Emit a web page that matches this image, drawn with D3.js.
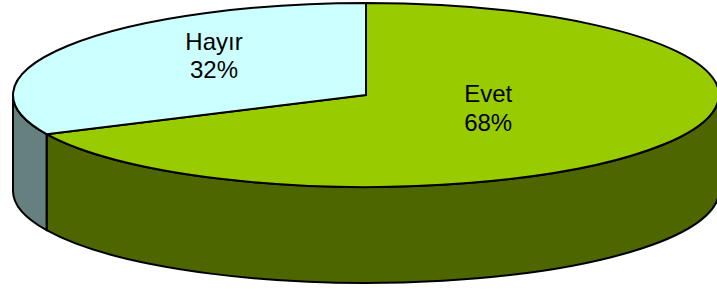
<!DOCTYPE html>
<html>
<head>
<meta charset="utf-8">
<script src="https://cdn.jsdelivr.net/npm/d3@7"></script>
<style>
  body { margin: 0; background: #fff; }
  svg { display: block; }
</style>
</head>
<body>
<svg id="chart" width="717" height="289"></svg>
<script>
// slice data
var labels = ["Evet", "Hayır"];
var values = [68, 32];
var percentLabels = ["68%", "32%"];

// colours: top face / side face
var topColors = ["#99cc00", "#ccffff"];
var sideColors = ["#4d6600", "#668080"];

// label placement, fraction of radius along x / y at mid angle
var labelFrac = [[0.41, 0.26], [0.51, 0.80]];

var W = 717, H = 289;
var cx = 366, cy = 95, rx = 353, ry = 92, depth = 96;

var svg = d3.select("#chart");

var pie = d3.pie().sort(null).value(d => d)
    .startAngle(0).endAngle(2 * Math.PI);
var arcs = pie(values);

// d3 angle (0 = top, clockwise) -> point on the ellipse
function pt(a, dy) {
    return [cx + rx * Math.sin(a), cy - ry * Math.cos(a) + (dy || 0)];
}

function topPath(a0, a1) {
    var p0 = pt(a0), p1 = pt(a1);
    var large = (a1 - a0) > Math.PI ? 1 : 0;
    return "M" + cx + "," + cy + "L" + p0 + "A" + rx + "," + ry + " 0 " + large + " 1 " + p1 + "Z";
}

function sidePath(a0, a1) {
    var p0 = pt(a0), p1 = pt(a1), q0 = pt(a0, depth), q1 = pt(a1, depth);
    var large = (a1 - a0) > Math.PI ? 1 : 0;
    return "M" + p0 + "A" + rx + "," + ry + " 0 " + large + " 1 " + p1 +
        "L" + q1 + "A" + rx + "," + ry + " 0 " + large + " 0 " + q0 + "Z";
}

// side faces: only the front half of the ellipse (angles pi/2 .. 3pi/2)
var sides = svg.append("g");
arcs.forEach(function (d, i) {
    var a0 = Math.max(d.startAngle, Math.PI / 2);
    var a1 = Math.min(d.endAngle, 3 * Math.PI / 2);
    if (a1 <= a0) return;
    sides.append("path")
        .attr("d", sidePath(a0, a1))
        .attr("fill", sideColors[i])
        .attr("stroke", "#000")
        .attr("stroke-width", 2)
        .attr("stroke-linejoin", "round");
});

// top faces
var tops = svg.append("g");
arcs.forEach(function (d, i) {
    tops.append("path")
        .attr("d", topPath(d.startAngle, d.endAngle))
        .attr("fill", topColors[i])
        .attr("stroke", "#000")
        .attr("stroke-width", 2)
        .attr("stroke-linejoin", "round");
});

// labels
arcs.forEach(function (d, i) {
    var mid = (d.startAngle + d.endAngle) / 2;
    var x = cx + rx * labelFrac[i][0] * Math.sin(mid);
    var y = cy - ry * labelFrac[i][1] * Math.cos(mid);
    var t = svg.append("text")
        .attr("x", x)
        .attr("y", y)
        .attr("text-anchor", "middle")
        .style("font-family", "Arial, 'Liberation Sans', sans-serif")
        .style("font-size", "24px")
        .attr("fill", "#000");
    t.append("tspan").attr("x", x).attr("dy", "-0.25em").text(labels[i]);
    t.append("tspan").attr("x", x).attr("dy", "1.2em").text(percentLabels[i]);
});
</script>
</body>
</html>
